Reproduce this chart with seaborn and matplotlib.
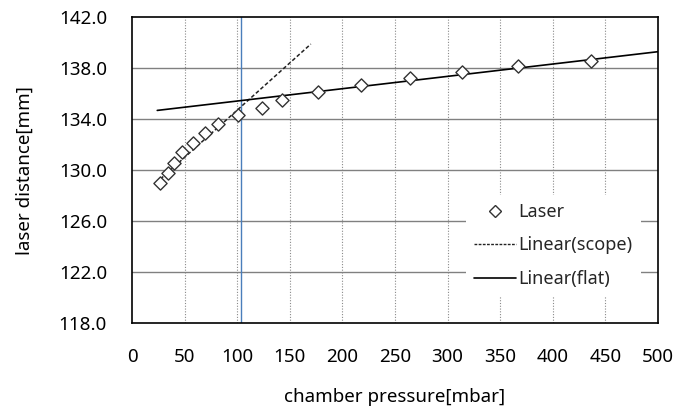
import matplotlib
matplotlib.use("Agg")
import matplotlib.pyplot as plt
import seaborn as sns
import pandas as pd
import numpy as np
from matplotlib.lines import Line2D
from matplotlib.ticker import FormatStrFormatter, MultipleLocator

# data
pressure = [27, 34, 40, 48, 58, 69, 82, 101, 124, 143, 177, 218, 264, 314, 367, 436]
distance = [129.0, 129.8, 130.6, 131.45, 132.1, 132.9, 133.6, 134.3, 134.9, 135.5,
            136.1, 136.7, 137.2, 137.7, 138.2, 138.6]
scope_x = [27, 170]
scope_y = [129.3, 139.9]
flat_x = [24, 500]
flat_y = [134.69, 139.3]
marker_x = 104
x_ticks = [0, 50, 100, 150, 200, 250, 300, 350, 400, 450, 500]
y_ticks = [118.0, 122.0, 126.0, 130.0, 134.0, 138.0, 142.0]

sns.set_theme(style="white")
plt.rcParams['font.family'] = ['Noto Sans', 'DejaVu Sans']

fig = plt.figure(figsize=(6.85, 4.12), dpi=100)
ax = fig.add_axes([132 / 685, 1 - 323 / 412, (658 - 132) / 685, (323 - 17.3) / 412])

df = pd.DataFrame({"p": pressure, "d": distance})
sdf = pd.DataFrame({"p": scope_x, "d": scope_y})
fdf = pd.DataFrame({"p": flat_x, "d": flat_y})

# grid
for xv in x_ticks[1:-1]:
    ax.axvline(xv, color="#8a8a8a", lw=0.8, ls=(0, (1, 1.5)), zorder=0)
for yv in y_ticks[1:-1]:
    ax.axhline(yv, color="#808080", lw=1.0, zorder=0)

ax.axvline(marker_x, color="#4a7ebb", lw=1.0, zorder=1)

sns.lineplot(data=sdf, x="p", y="d", ax=ax, color="#222222", lw=1.1,
             linestyle=(0, (2.5, 1.5)), zorder=2)
sns.lineplot(data=fdf, x="p", y="d", ax=ax, color="black", lw=1.2, zorder=2)
sns.scatterplot(data=df, x="p", y="d", ax=ax, marker="D", s=45,
                facecolor="white", edgecolor="#333333", linewidth=1.0, zorder=3)

ax.set_xlim(0, 500)
ax.set_ylim(118, 142)
ax.set_xticks(x_ticks)
ax.set_yticks(y_ticks)
ax.yaxis.set_major_formatter(FormatStrFormatter("%.1f"))
for s in ax.spines.values():
    s.set_color("black")
    s.set_linewidth(1.2)
ax.tick_params(axis="both", which="major", direction="out", length=5, width=1,
               color="black", labelsize=13.5, labelcolor="black")
ax.tick_params(axis="x", pad=13)
ax.tick_params(axis="y", pad=13)
ax.set_xlabel("chamber pressure[mbar]", fontsize=13.5, color="black", labelpad=16)
ax.set_ylabel("laser distance[mm]", fontsize=13.5, color="black", labelpad=18)

handles = [
    Line2D([], [], marker="D", ls="none", markersize=6, markerfacecolor="white",
           markeredgecolor="#333333", markeredgewidth=1.0),
    Line2D([], [], color="#222222", lw=1.0, ls=(0, (2, 1))),
    Line2D([], [], color="black", lw=1.2),
]
leg = ax.legend(handles, ["Laser", "Linear(scope)", "Linear(flat)"],
                loc="upper left", bbox_to_anchor=(466 / 685, 1 - 195 / 412),
                bbox_transform=fig.transFigure, frameon=True, fontsize=13,
                handlelength=2.3, handletextpad=0.15, labelspacing=0.85,
                borderpad=0.45, borderaxespad=0, fancybox=False)
leg.get_frame().set_facecolor("white")
leg.get_frame().set_edgecolor("none")
leg.get_frame().set_alpha(1)

fig.savefig("out.png", dpi=100)
